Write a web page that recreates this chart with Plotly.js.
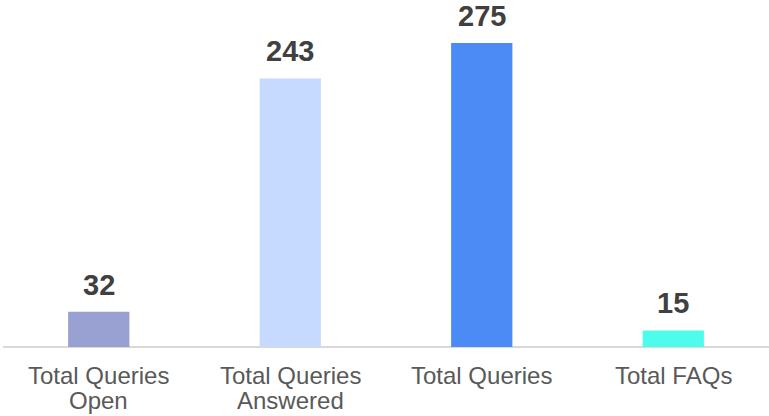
<!DOCTYPE html>
<html>
<head>
<meta charset="utf-8">
<script src="https://cdn.plot.ly/plotly-3.0.1.min.js"></script>
<style>html,body{margin:0;padding:0;background:#fff;}#chart{width:769px;height:416px;}</style>
</head>
<body>
<div id="chart"></div>
<script>
var categories = ["Total Queries<br>Open", "Total Queries<br>Answered", "Total Queries", "Total FAQs"];
var values = [32, 243, 275, 15];
var barColors = ["#98A1D2", "#C6D9FE", "#4B8BF5", "#4EFCEC"];
var valueLabels = ["32", "243", "275", "15"];

var trace = {
  type: "bar",
  x: categories,
  y: values,
  marker: {color: barColors},
  hoverinfo: "none"
};

var FONT = "Liberation Sans, Arial, sans-serif";
var annotations = categories.map(function(c, i){
  return {
    x: c, y: values[i], xref: "x", yref: "y",
    text: "<b>" + valueLabels[i] + "</b>",
    showarrow: false, yanchor: "bottom", yshift: 9,
    font: {family: FONT, size: 29, color: "#404040"}
  };
});
// category labels, one annotation per line for exact line spacing
categories.forEach(function(c){
  c.split("<br>").forEach(function(line, j){
    annotations.push({
      x: c, y: 0, xref: "x", yref: "y",
      text: line, showarrow: false, yanchor: "top",
      yshift: -(14 + j * 25), borderpad: 0,
      font: {family: FONT, size: 24, color: "#595959"}
    });
  });
});

var layout = {
  width: 769, height: 416,
  margin: {l: 3, r: 0, t: 20, b: 69},
  paper_bgcolor: "#fff", plot_bgcolor: "#fff",
  showlegend: false,
  bargap: 0.68,
  xaxis: {
    showgrid: false, zeroline: false, showline: false,
    ticks: "", showticklabels: false,
    fixedrange: true
  },
  yaxis: {
    range: [0, 295.9], showgrid: false, zeroline: true, zerolinecolor: "#D9D9D9", zerolinewidth: 2,
    showticklabels: false, showline: false, ticks: "", fixedrange: true
  },
  annotations: annotations
};

Plotly.newPlot("chart", [trace], layout, {displayModeBar: false, staticPlot: true});
</script>
</body>
</html>
